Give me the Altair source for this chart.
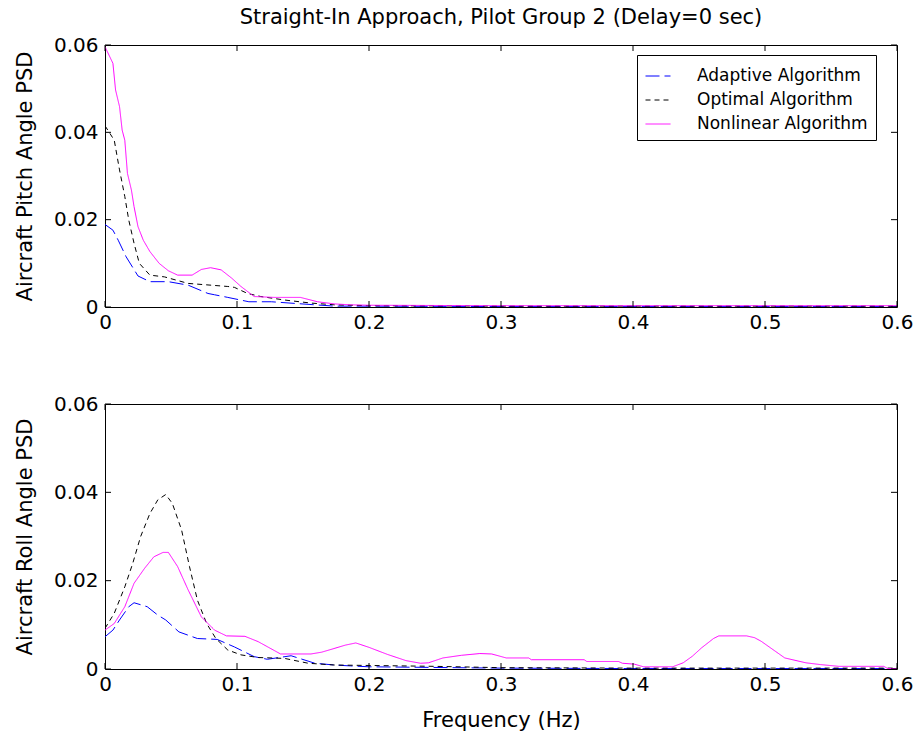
import altair as alt
import pandas as pd

FONT = "DejaVu Sans"
SERIES = ["Adaptive Algorithm", "Optimal Algorithm", "Nonlinear Algorithm"]
COLORS = ["#0000ff", "#000000", "#ff00ff"]
DASHES = [[14, 5], [5, 4], [1, 0]]
TITLE = "Straight-In Approach, Pilot Group 2 (Delay=0 sec)"
x_ticks = [0, 0.1, 0.2, 0.3, 0.4, 0.5, 0.6]
y_ticks = [0, 0.02, 0.04, 0.06]

# ---- Top panel: pitch angle PSD ----
top_f_adaptive = [0, 0.006, 0.010, 0.016, 0.025, 0.034, 0.048, 0.063, 0.078, 0.083,
                  0.093, 0.109, 0.126, 0.159, 0.174, 0.2, 0.3, 0.4, 0.5, 0.6]
top_v_adaptive = [0.0189, 0.0176, 0.0153, 0.0115, 0.0071, 0.0058, 0.0058, 0.0050, 0.0031, 0.0028,
                  0.0022, 0.0012, 0.0012, 0.0005, 0.0002, 0.0002, 0.0001, 0.0001, 0.0001, 0.0001]

top_f_optimal = [0, 0.007, 0.011, 0.015, 0.018, 0.022, 0.026, 0.034, 0.045, 0.063,
                 0.093, 0.098, 0.108, 0.118, 0.136, 0.156, 0.174, 0.2, 0.3, 0.4, 0.5, 0.6]
top_v_optimal = [0.0415, 0.0382, 0.0314, 0.0253, 0.0199, 0.0146, 0.0100, 0.0073, 0.0069, 0.0054,
                 0.0047, 0.0045, 0.0031, 0.0024, 0.0016, 0.0009, 0.0005, 0.0003, 0.0002, 0.0002, 0.0002, 0.0002]

top_f_nonlinear = [0, 0.006, 0.008, 0.011, 0.013, 0.015, 0.017, 0.020, 0.022, 0.025,
                   0.029, 0.034, 0.041, 0.048, 0.055, 0.066, 0.073, 0.080, 0.088, 0.096,
                   0.103, 0.113, 0.128, 0.148, 0.161, 0.174, 0.186, 0.2, 0.3, 0.4, 0.5, 0.6]
top_v_nonlinear = [0.0596, 0.0558, 0.0497, 0.0459, 0.0405, 0.0382, 0.0306, 0.0268, 0.0230, 0.0184,
                   0.0153, 0.0127, 0.0100, 0.0083, 0.0073, 0.0073, 0.0086, 0.0090, 0.0085, 0.0066,
                   0.0047, 0.0024, 0.0022, 0.0022, 0.0012, 0.0007, 0.0005, 0.0004, 0.0003, 0.0003, 0.0003, 0.0003]

# ---- Bottom panel: roll angle PSD ----
bot_f_adaptive = [0, 0.006, 0.011, 0.018, 0.022, 0.032, 0.040, 0.046, 0.056, 0.070,
                  0.085, 0.098, 0.113, 0.123, 0.141, 0.159, 0.174, 0.186, 0.2, 0.3, 0.4, 0.5, 0.6]
bot_v_adaptive = [0.0073, 0.0088, 0.0111, 0.0141, 0.0150, 0.0141, 0.0122, 0.0111, 0.0084, 0.0069,
                  0.0067, 0.0050, 0.0028, 0.0022, 0.0030, 0.0013, 0.0009, 0.0007, 0.0005, 0.0002, 0.0001, 0.0001, 0.0001]

bot_f_optimal = [0, 0.007, 0.015, 0.021, 0.027, 0.034, 0.040, 0.046, 0.051, 0.058,
                 0.064, 0.070, 0.077, 0.084, 0.093, 0.103, 0.116, 0.136, 0.154, 0.174,
                 0.2, 0.25, 0.3, 0.4, 0.5, 0.6]
bot_v_optimal = [0.0092, 0.0126, 0.0186, 0.0239, 0.0300, 0.0352, 0.0383, 0.0395, 0.0375, 0.0315,
                 0.0232, 0.0156, 0.0103, 0.0069, 0.0043, 0.0032, 0.0026, 0.0024, 0.0013, 0.0009,
                 0.0008, 0.0006, 0.0003, 0.0002, 0.0002, 0.0002]

bot_f_nonlinear = [0, 0.007, 0.015, 0.022, 0.030, 0.037, 0.044, 0.048, 0.055, 0.063,
                   0.073, 0.083, 0.092, 0.106, 0.116, 0.133, 0.156, 0.164, 0.172, 0.182,
                   0.190, 0.200, 0.214, 0.228, 0.239, 0.245, 0.256, 0.270, 0.284, 0.293,
                   0.304, 0.321, 0.323, 0.363, 0.365, 0.389, 0.392, 0.401, 0.408, 0.430,
                   0.438, 0.445, 0.452, 0.461, 0.465, 0.486, 0.492, 0.497, 0.506, 0.515,
                   0.531, 0.542, 0.556, 0.590, 0.593, 0.6]
bot_v_nonlinear = [0.0088, 0.0103, 0.0141, 0.0194, 0.0228, 0.0254, 0.0264, 0.0264, 0.0232, 0.0179,
                   0.0118, 0.0088, 0.0075, 0.0074, 0.0062, 0.0034, 0.0034, 0.0038, 0.0045, 0.0054,
                   0.0059, 0.0049, 0.0033, 0.0019, 0.0013, 0.0014, 0.0025, 0.0031, 0.0035, 0.0034,
                   0.0025, 0.0025, 0.0021, 0.0021, 0.0017, 0.0017, 0.0013, 0.0011, 0.0005, 0.0005,
                   0.0014, 0.0029, 0.0048, 0.0069, 0.0075, 0.0075, 0.0071, 0.0063, 0.0044, 0.0025,
                   0.0014, 0.0010, 0.0006, 0.0006, 0.0001, 0.0001]

groups = [
    ("top", SERIES[0], top_f_adaptive, top_v_adaptive),
    ("top", SERIES[1], top_f_optimal, top_v_optimal),
    ("top", SERIES[2], top_f_nonlinear, top_v_nonlinear),
    ("bottom", SERIES[0], bot_f_adaptive, bot_v_adaptive),
    ("bottom", SERIES[1], bot_f_optimal, bot_v_optimal),
    ("bottom", SERIES[2], bot_f_nonlinear, bot_v_nonlinear),
]
rows = []
for panel, s, fs, vs in groups:
    assert len(fs) == len(vs), (panel, s)
    for i, (a, b) in enumerate(zip(fs, vs)):
        rows.append({"panel": panel, "series": s, "order": i, "f": a, "v": b})
df = pd.DataFrame(rows)
xt = pd.DataFrame({"f": x_ticks})
yt = pd.DataFrame({"v": y_ticks})

W = 792
TICK = 6
x_scale = alt.Scale(domain=[0, 0.6], nice=False, zero=False)
y_scale = alt.Scale(domain=[0, 0.06], nice=False, zero=False)


def panel_chart(name, ytitle, height, show_legend, xtitle):
    legend = None
    if show_legend:
        legend = alt.Legend(
            title=None, orient="none", legendX=532, legendY=10,
            strokeColor="black", fillColor="white", padding=8,
            labelFont=FONT, labelFontSize=17, labelColor="black",
            symbolType="stroke", symbolSize=625, symbolStrokeWidth=1,
            labelOffset=26, rowPadding=3, labelLimit=400, cornerRadius=0,
        )
    xaxis = alt.Axis(values=x_ticks, format="~g", title=xtitle, labelFlush=False)
    yaxis = alt.Axis(values=y_ticks, format="~g", title=ytitle, labelFlush=False)
    lines = alt.Chart(df).transform_filter(alt.datum.panel == name).mark_line(
        strokeWidth=1, clip=True
    ).encode(
        x=alt.X("f:Q", scale=x_scale, axis=xaxis),
        y=alt.Y("v:Q", scale=y_scale, axis=yaxis),
        color=alt.Color("series:N", scale=alt.Scale(domain=SERIES, range=COLORS), legend=legend),
        strokeDash=alt.StrokeDash("series:N", scale=alt.Scale(domain=SERIES, range=DASHES), legend=legend),
        order="order:Q",
    )
    bt = alt.Chart(xt).mark_rule(color="black", strokeWidth=1).encode(
        x=alt.X("f:Q", scale=x_scale), y=alt.value(height), y2=alt.value(height - TICK))
    tt = alt.Chart(xt).mark_rule(color="black", strokeWidth=1).encode(
        x=alt.X("f:Q", scale=x_scale), y=alt.value(0), y2=alt.value(TICK))
    lt = alt.Chart(yt).mark_rule(color="black", strokeWidth=1).encode(
        y=alt.Y("v:Q", scale=y_scale), x=alt.value(0), x2=alt.value(TICK))
    rt = alt.Chart(yt).mark_rule(color="black", strokeWidth=1).encode(
        y=alt.Y("v:Q", scale=y_scale), x=alt.value(W), x2=alt.value(W - TICK))
    return alt.layer(lines, bt, tt, lt, rt).properties(width=W, height=height)


top = panel_chart("top", "Aircraft Pitch Angle PSD", 262, True, None).properties(
    title=alt.TitleParams(text=TITLE, font=FONT, fontSize=21, fontWeight="normal",
                          anchor="middle", color="black", offset=7)
)
bottom = panel_chart("bottom", "Aircraft Roll Angle PSD", 265, False, "Frequency (Hz)")

chart = alt.vconcat(top, bottom, spacing=97, bounds="flush").resolve_scale(
    color="independent", strokeDash="independent"
).properties(
    padding={"left": 13, "top": 6, "right": 2, "bottom": 2}
).configure_view(
    stroke="black", strokeWidth=1
).configure_axis(
    labelFont=FONT, titleFont=FONT, labelFontSize=20, titleFontSize=21,
    labelColor="black", titleColor="black", titleFontWeight="normal",
    ticks=False, domain=False, grid=False,
).configure_axisY(
    labelPadding=7, titlePadding=18,
).configure_axisX(
    labelPadding=5, titlePadding=15,
)

chart.save("out.html", embed_options={"renderer": "svg", "actions": False})
